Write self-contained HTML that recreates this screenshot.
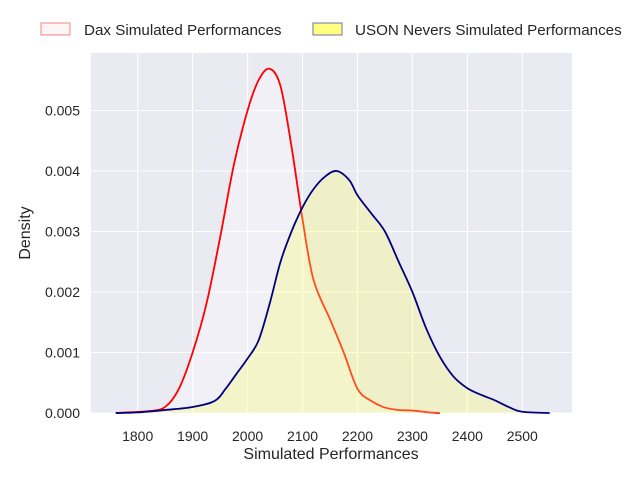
<!DOCTYPE html>
<html><head><meta charset="utf-8"><style>
body{margin:0;background:#fff}
svg{display:block;font-family:"Liberation Sans","DejaVu Sans",sans-serif}
</style></head><body>
<svg id="chart" width="640" height="480" viewBox="0 0 640 480">
<rect x="91" y="53" width="481" height="360" fill="#eaeaf2"/>
<g id="grid"></g>
<g id="series"></g>
<g id="ticks" font-size="14" fill="#262626"></g>
<text x="331" y="459" text-anchor="middle" font-size="16" fill="#262626">Simulated Performances</text>
<text transform="translate(30,233) rotate(-90)" text-anchor="middle" font-size="16" fill="#262626">Density</text>
<g>
<g>
<rect x="41" y="23" width="29" height="12" fill="#fdf6f6" stroke="#ff8080" stroke-width="1"/>
<text x="84" y="35" font-size="15.2" fill="#262626">Dax Simulated Performances</text></g>
<g>
<rect x="313" y="23" width="29" height="12" fill="#ffff80" stroke="#7070a8" stroke-width="1"/>
<text x="355" y="35" font-size="15.2" fill="#262626">USON Nevers Simulated Performances</text></g>
</g>
</svg>
<script>
const xTicks=[1800,1900,2000,2100,2200,2300,2400,2500];
const yTicks=[0,0.001,0.002,0.003,0.004,0.005];
const yTickLabels=["0.000","0.001","0.002","0.003","0.004","0.005"];
const daxX=[1760,1780,1820,1850,1875,1900,1925,1950,1975,2000,2020,2040,2060,2080,2100,2120,2150,2175,2200,2225,2250,2275,2300,2330,2350];
const daxY=[0,0.00001,0.00003,0.0001,0.0004,0.001,0.0018,0.0029,0.0041,0.005,0.0055,0.00569,0.0054,0.0044,0.0032,0.0022,0.00155,0.001,0.0004,0.0002,0.00009,0.00005,0.00004,0.00001,0];
const usonX=[1760,1800,1850,1900,1940,1960,1980,2000,2020,2040,2060,2080,2100,2120,2140,2162,2185,2200,2225,2250,2275,2300,2325,2350,2375,2400,2425,2450,2475,2500,2550];
const usonY=[0,0.00001,0.00005,0.0001,0.0002,0.0004,0.00065,0.0009,0.0012,0.0018,0.0025,0.003,0.0034,0.0037,0.0039,0.004,0.00385,0.0036,0.0033,0.003,0.0025,0.002,0.0014,0.00093,0.0006,0.00041,0.0003,0.00021,0.0001,0.00002,0];
const NS="http://www.w3.org/2000/svg";
function sx(v){return 137.7+(v-1800)*0.5494;}
function sy(v){return 413-v*60500;}
function mk(t,a,p){const e=document.createElementNS(NS,t);for(const k in a)e.setAttribute(k,a[k]);p.appendChild(e);return e;}
const grid=document.getElementById('grid'),ticks=document.getElementById('ticks'),ser=document.getElementById('series');
xTicks.forEach(v=>{
 const l=mk('line',{x1:sx(v),x2:sx(v),y1:53,y2:413,stroke:'#fff','stroke-width':1.1},grid);
 
 
 const t=mk('text',{x:sx(v),y:441,'text-anchor':'middle'},ticks);t.textContent=v;
 
 
});
yTicks.forEach((v,i)=>{
 const l=mk('line',{x1:91,x2:572,y1:sy(v),y2:sy(v),stroke:'#fff','stroke-width':1.1},grid);
 
 
 const t=mk('text',{x:80,y:sy(v)+5,'text-anchor':'end'},ticks);t.textContent=yTickLabels[i];
 
 
});
function spline(xs,ys){
 const p=xs.map((x,i)=>[sx(x),sy(ys[i])]);
 let d=`M${p[0][0]},${p[0][1]}`;
 for(let i=0;i<p.length-1;i++){
  const p0=p[Math.max(0,i-1)],p1=p[i],p2=p[i+1],p3=p[Math.min(p.length-1,i+2)];
  const c1=[p1[0]+(p2[0]-p0[0])/6,p1[1]+(p2[1]-p0[1])/6];
  const c2=[p2[0]-(p3[0]-p1[0])/6,p2[1]-(p3[1]-p1[1])/6];
  d+=` C${c1[0]},${Math.min(413,c1[1])} ${c2[0]},${Math.min(413,c2[1])} ${p2[0]},${p2[1]}`;
 }
 return d;
}
function draw(xs,ys,fill,op,stroke,name){
 const d=spline(xs,ys);
 const f=mk('path',{d:d+` L${sx(xs[xs.length-1])},413 L${sx(xs[0])},413 Z`,fill:fill,'fill-opacity':op},ser);
 
 
 const l=mk('path',{d:d,fill:'none',stroke:stroke,'stroke-width':1.8},ser);
 
 
}
draw(daxX,daxY,'#ffffff',0.3,'#ff0000','dax-density');
draw(usonX,usonY,'#ffff66',0.3,'#000080','uson-density');
</script>
</body></html>
